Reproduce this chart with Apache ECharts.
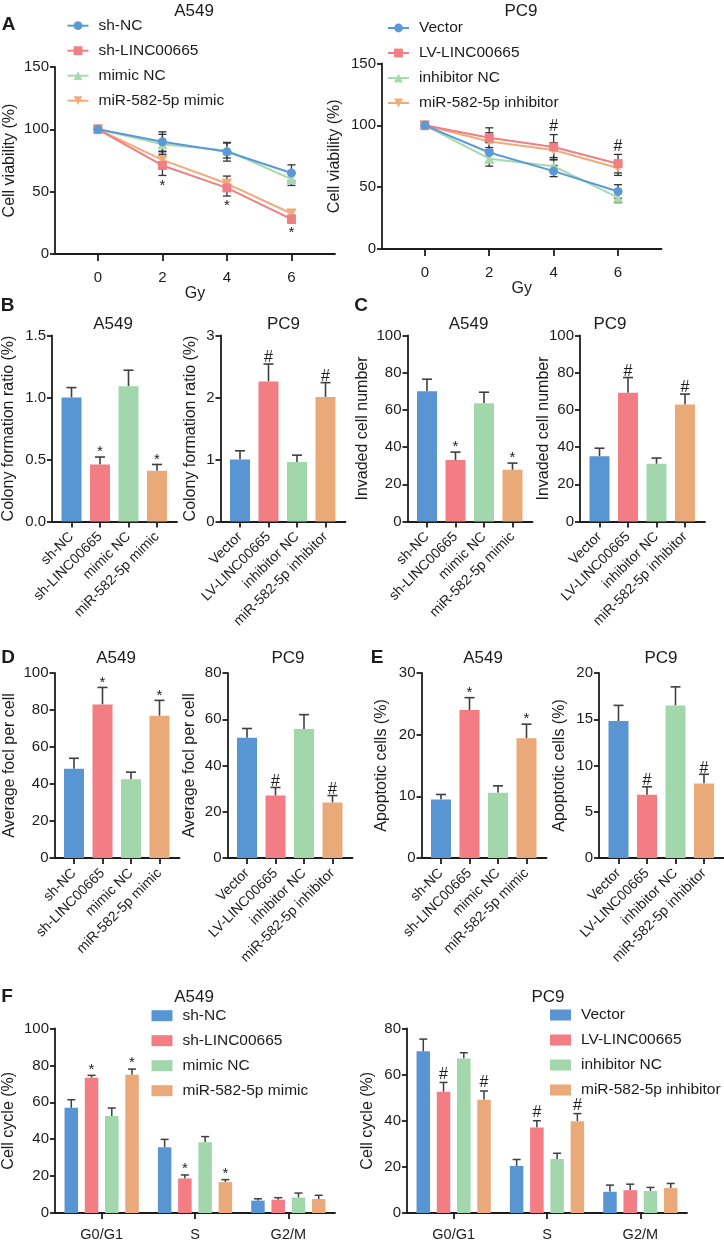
<!DOCTYPE html>
<html><head><meta charset="utf-8">
<script src="https://cdn.jsdelivr.net/npm/echarts@6/dist/echarts.min.js"></script>
<style>html,body{margin:0;padding:0;background:#fff}#c{width:724px;height:1241px}</style>
</head><body><div id="c"></div><script>
// ================= DATA =================
// Panel A: cell viability vs dose
const doses = [0, 2, 4, 6];
const a549Groups = ['sh-NC', 'sh-LINC00665', 'mimic NC', 'miR-582-5p mimic'];
const pc9Groups = ['Vector', 'LV-LINC00665', 'inhibitor NC', 'miR-582-5p inhibitor'];
const viabA549_shNC = [100, 90, 82, 65];
const viabA549_shNC_sd = [0, 8, 7.5, 6.5];
const viabA549_shLINC = [100, 71, 53, 28];
const viabA549_shLINC_sd = [0, 8, 6.5, 3];
const viabA549_mimicNC = [100, 88, 83, 60];
const viabA549_mimicNC_sd = [0, 8, 6, 5];
const viabA549_mimic = [100, 75.5, 56.5, 32.5];
const viabA549_mimic_sd = [0, 7, 6, 3];
const viabA549_sig = ['', '*', '*', '*'];          // under sh-LINC00665
const viabPC9_vector = [100, 78, 63, 46.5];
const viabPC9_vector_sd = [0, 8, 4.5, 5.5];
const viabPC9_LV = [100, 90, 82.5, 69];
const viabPC9_LV_sd = [0, 8, 10, 7.5];
const viabPC9_inhNC = [100, 73, 67, 41.5];
const viabPC9_inhNC_sd = [0, 6, 5, 4];
const viabPC9_inh = [100, 87, 80, 65.5];
const viabPC9_inh_sd = [0, 7, 6, 6];
const viabPC9_sig = ['', '', '#', '#'];            // above LV-LINC00665

// Panel B: colony formation ratio
const colonyA549 = [1.0, 0.46, 1.09, 0.41];
const colonyA549_sd = [0.08, 0.06, 0.13, 0.05];
const colonyA549_sig = ['', '*', '', '*'];
const colonyPC9 = [1.0, 2.26, 0.96, 2.01];
const colonyPC9_sd = [0.14, 0.28, 0.11, 0.23];
const colonyPC9_sig = ['', '#', '', '#'];
// Panel C: invaded cell number
const invadedA549 = [70, 33, 63.6, 27.8];
const invadedA549_sd = [6.5, 4.3, 5.9, 3.6];
const invadedA549_sig = ['', '*', '', '*'];
const invadedPC9 = [35.1, 69.2, 31, 62.9];
const invadedPC9_sd = [4.3, 8.2, 3.1, 5.6];
const invadedPC9_sig = ['', '#', '', '#'];
// Panel D: average foci per cell
const fociA549 = [48.2, 83, 42.6, 76.9];
const fociA549_sd = [5.7, 9.2, 3.8, 8.3];
const fociA549_sig = ['', '*', '', '*'];
const fociPC9 = [52, 27, 55.8, 24];
const fociPC9_sd = [4, 3.5, 6.2, 3];
const fociPC9_sig = ['', '#', '', '#'];
// Panel E: apoptotic cells
const apoA549 = [9.5, 24, 10.6, 19.4];
const apoA549_sd = [0.8, 2, 1.1, 2.3];
const apoA549_sig = ['', '*', '', '*'];
const apoPC9 = [14.8, 6.85, 16.5, 8.05];
const apoPC9_sd = [1.7, 0.85, 2, 1];
const apoPC9_sig = ['', '#', '', '#'];
// Panel F: cell cycle
const phases = ['G0/G1', 'S', 'G2/M'];
const cycA549_shNC = [57, 35.6, 6.7];
const cycA549_shNC_sd = [4.4, 4.3, 1];
const cycA549_shLINC = [73.3, 18.7, 7.2];
const cycA549_shLINC_sd = [1.3, 1.9, 1.1];
const cycA549_mimicNC = [52.6, 38.3, 8.4];
const cycA549_mimicNC_sd = [4.3, 3.1, 2.4];
const cycA549_mimic = [75, 16.7, 7.6];
const cycA549_mimic_sd = [3, 1.4, 2];
const cycA549_sig = ['*', '*', ''];                // sh-LINC00665 & miR-582-5p mimic
const cycPC9_vector = [70.1, 20.4, 9.2];
const cycPC9_vector_sd = [5.3, 2.8, 2.9];
const cycPC9_LV = [52.6, 37.1, 9.9];
const cycPC9_LV_sd = [4, 2.9, 2.6];
const cycPC9_inhNC = [67, 23.4, 9.5];
const cycPC9_inhNC_sd = [2.5, 2.5, 1.6];
const cycPC9_inh = [49.1, 39.8, 10.8];
const cycPC9_inh_sd = [3.8, 3.3, 2];
const cycPC9_sig = ['#', '#', ''];                 // LV-LINC00665 & inhibitor

// ================= STYLE / BUILD =================
const FONT = "'Liberation Sans', Arial, Helvetica, sans-serif";
const INK = '#1c1c1c';
const ERR = '#3f3f3f';
const BAR_COLORS = ['#5995d2', '#f27d82', '#a2d6ab', '#e9a979'];
const LINE_COLORS = ['#5b99d6', '#f07e83', '#a6d9af', '#f0ab7a'];

const option = {
  animation: false, backgroundColor: '#fff',
  textStyle: { fontFamily: FONT },
  grid: [], xAxis: [], yAxis: [], series: [], legend: [], graphic: []
};
const axisLine = { show: true, onZero: false, lineStyle: { color: INK, width: 1.8 } };
function tick(len, extra) { return Object.assign({ show: true, inside: false, length: len, lineStyle: { color: INK, width: 1.8 } }, extra || {}); }
function addGrid(left, top, width, height) {
  option.grid.push({ left, top, width, height, containLabel: false, outerBoundsMode: 'none' });
  return option.grid.length - 1;
}
function yAxisCfg(gi, max, step, name, gap, dec) {
  return {
    type: 'value', gridIndex: gi, min: 0, max, interval: step,
    axisLine, axisTick: tick(5), splitLine: { show: false },
    axisLabel: { color: INK, fontSize: 15, margin: 6, fontFamily: FONT, formatter: v => v.toFixed(dec) },
    name, nameLocation: 'middle', nameGap: gap, nameMoveOverlap: false,
    nameTextStyle: { color: INK, fontSize: 16, fontFamily: FONT }
  };
}
function errSeries(gi, xs, vals, sds, both, cap, offset, color, lw) {
  return {
    type: 'custom', xAxisIndex: gi, yAxisIndex: gi, silent: true, z: 2,
    data: xs.map((x, i) => [x, vals[i], sds[i]]),
    renderItem(params, api) {
      const x = api.value(0), v = api.value(1), e = api.value(2);
      if (!e) return null;
      const hi = api.coord([x, v + e]);
      const lo = api.coord([x, both ? v - e : v]);
      const cx = hi[0] + offset;
      const st = { stroke: color, lineWidth: lw };
      const ch = [
        { type: 'line', shape: { x1: cx, y1: lo[1], x2: cx, y2: hi[1] }, style: st },
        { type: 'line', shape: { x1: cx - cap / 2, y1: hi[1], x2: cx + cap / 2, y2: hi[1] }, style: st }
      ];
      if (both) ch.push({ type: 'line', shape: { x1: cx - cap / 2, y1: lo[1], x2: cx + cap / 2, y2: lo[1] }, style: st });
      return { type: 'group', children: ch };
    }
  };
}
function sigSeries(gi, xs, vals, sds, marks, below, offset, dyStar, dyHash) {
  const data = [];
  marks.forEach((m, i) => { if (m) data.push([xs[i], below ? vals[i] - sds[i] : vals[i] + sds[i], i]); });
  return {
    type: 'custom', xAxisIndex: gi, yAxisIndex: gi, silent: true, z: 6, data,
    renderItem(params, api) {
      const m = marks[api.value(2)];
      const p = api.coord([api.value(0), api.value(1)]);
      return {
        type: 'text', x: p[0] + offset, y: p[1] + (m === '*' ? dyStar : dyHash),
        style: { text: m, fill: INK, font: (m === '*' ? 15 : 16) + 'px ' + FONT, textAlign: 'center', textVerticalAlign: 'middle' }
      };
    }
  };
}
function addText(text, x, y, size, bold) {
  option.graphic.push({ type: 'text', x, y, silent: true,
    style: { text, fill: INK, font: (bold ? 'bold ' : '') + size + 'px ' + FONT, textAlign: 'center', textVerticalAlign: 'middle' } });
}

// ---- Line panels (A) ----
function linePanel(box, groups, means, sds, sig, below, dyStar, dyHash, legendPos, nameGap) {
  const gi = addGrid(box.left, box.top, box.width, box.height);
  option.xAxis.push({
    type: 'value', gridIndex: gi, min: -1.33, max: 7.35, axisLine,
    axisTick: tick(7, { customValues: doses }), splitLine: { show: false },
    axisLabel: { customValues: doses, color: INK, fontSize: 15, margin: 16 },
    name: 'Gy', nameLocation: 'middle', nameGap: 32, nameMoveOverlap: false,
    nameTextStyle: { color: INK, fontSize: 16 }
  });
  option.yAxis.push(yAxisCfg(gi, 150, 50, 'Cell viability (%)', nameGap, 0));
  const symbols = ['circle', 'rect', 'triangle', 'triangle'];
  const rots = [0, 0, 0, 180];
  groups.forEach((g, k) => {
    option.series.push(errSeries(gi, doses, means[k], sds[k], true, 8, 0, '#333', 1.3));
  });
  groups.forEach((g, k) => {
    option.series.push({
      type: 'line', name: g, xAxisIndex: gi, yAxisIndex: gi, z: 10 - k,
      data: doses.map((d, i) => [d, means[k][i]]),
      symbol: symbols[k], symbolRotate: rots[k], symbolSize: k >= 2 ? 10 : 9,
      lineStyle: { color: LINE_COLORS[k], width: 2 }, itemStyle: { color: LINE_COLORS[k] }
    });
  });
  option.series.push(sigSeries(gi, doses, means[1], sds[1], sig, below, 0, dyStar, dyHash));
  option.legend.push({
    orient: 'vertical', left: legendPos[0], top: legendPos[1], padding: 0, itemGap: 0,
    itemWidth: 21, itemHeight: 11, selectedMode: false, data: groups,
    textStyle: { fontSize: 15.5, color: INK, lineHeight: 25, padding: [0, 0, 0, 5] }
  });
}

// ---- Bar panels (B-E) ----
const OFF = 19.5, SP = 28.5, END = 20;
function barPanel(left, top, height, cats, vals, sds, marks, yMax, yStep, dec, yName, nameGap) {
  const width = OFF + 3 * SP + END;
  const gi = addGrid(left, top, width, height);
  const idx = [0, 1, 2, 3];
  option.xAxis.push({
    type: 'value', gridIndex: gi, min: -OFF / SP, max: 3 + END / SP, axisLine,
    axisTick: tick(6, { customValues: idx }), splitLine: { show: false },
    axisLabel: { customValues: idx, formatter: v => cats[Math.round(v)], rotate: 45, color: INK, fontSize: 14, margin: 13 }
  });
  option.yAxis.push(yAxisCfg(gi, yMax, yStep, yName, nameGap, dec));
  option.series.push({
    type: 'bar', xAxisIndex: gi, yAxisIndex: gi, barWidth: 20, silent: true, z: 3,
    data: vals.map((v, i) => ({ value: [i, v], itemStyle: { color: BAR_COLORS[i] } }))
  });
  option.series.push(errSeries(gi, idx, vals, sds, false, 10, 0, ERR, 1.6));
  option.series.push(sigSeries(gi, idx, vals, sds, marks, false, 0, -5, -6));
}

// ---- Cell cycle panels (F) ----
function cyclePanel(left, top, width, height, groups, means, sds, sigIdx, sig, yMax, yStep, nameGap, legendPos) {
  const gi = addGrid(left, top, width, height);
  option.xAxis.push({
    type: 'category', gridIndex: gi, data: phases, axisLine,
    axisTick: tick(6, { alignWithLabel: true }),
    axisLabel: { color: INK, fontSize: 14.5, margin: 14 }
  });
  option.yAxis.push(yAxisCfg(gi, yMax, yStep, 'Cell cycle (%)', nameGap, 0));
  const W = 13.5, step = W * 1.5;
  groups.forEach((g, k) => {
    option.series.push({
      type: 'bar', name: g, xAxisIndex: gi, yAxisIndex: gi, barWidth: W, barGap: '50%', silent: true, z: 3,
      data: means[k], itemStyle: { color: BAR_COLORS[k] }
    });
  });
  groups.forEach((g, k) => {
    const off = (k - 1.5) * step;
    option.series.push(errSeries(gi, [0, 1, 2], means[k], sds[k], false, 8, off, ERR, 1.5));
    if (sigIdx.indexOf(k) >= 0) option.series.push(sigSeries(gi, [0, 1, 2], means[k], sds[k], sig, false, off, -6, -8));
  });
  option.legend.push({
    orient: 'vertical', left: legendPos[0], top: legendPos[1], padding: 0, itemGap: 0,
    itemWidth: 21, itemHeight: 11, selectedMode: false,
    data: groups.map((g, k) => ({ name: g, icon: 'rect', itemStyle: { color: BAR_COLORS[k], borderWidth: 0 } })),
    textStyle: { fontSize: 15.5, color: INK, lineHeight: 25, padding: [0, 0, 0, 5] }
  });
}

// ---- assemble ----
linePanel({ left: 55, top: 67, width: 280, height: 187 }, a549Groups,
  [viabA549_shNC, viabA549_shLINC, viabA549_mimicNC, viabA549_mimic],
  [viabA549_shNC_sd, viabA549_shLINC_sd, viabA549_mimicNC_sd, viabA549_mimic_sd],
  viabA549_sig, true, 10, 10, [66.5, 13.2], 37);
linePanel({ left: 382, top: 63.5, width: 279.5, height: 185.5 }, pc9Groups,
  [viabPC9_vector, viabPC9_LV, viabPC9_inhNC, viabPC9_inh],
  [viabPC9_vector_sd, viabPC9_LV_sd, viabPC9_inhNC_sd, viabPC9_inh_sd],
  viabPC9_sig, false, -8, -8, [387, 15.5], 39);

barPanel(52, 335.5, 186, a549Groups, colonyA549, colonyA549_sd, colonyA549_sig, 1.5, 0.5, 1, 'Colony formation ratio (%)', 35);
barPanel(220.5, 335.5, 186, pc9Groups, colonyPC9, colonyPC9_sd, colonyPC9_sig, 3, 1, 0, 'Colony formation ratio (%)', 22);
barPanel(407.5, 335.5, 186, a549Groups, invadedA549, invadedA549_sd, invadedA549_sig, 100, 20, 0, 'Invaded cell number', 37);
barPanel(580, 335.5, 186, pc9Groups, invadedPC9, invadedPC9_sd, invadedPC9_sig, 100, 20, 0, 'Invaded cell number', 28);
barPanel(54.5, 673, 185, a549Groups, fociA549, fociA549_sd, fociA549_sig, 100, 20, 0, 'Average focl per cell', 37);
barPanel(227.5, 673, 185, pc9Groups, fociPC9, fociPC9_sd, fociPC9_sig, 80, 20, 0, 'Average focl per cell', 30);
barPanel(421.5, 673, 185, a549Groups, apoA549, apoA549_sd, apoA549_sig, 30, 10, 0, 'Apoptotic cells (%)', 32);
barPanel(599, 673, 185, pc9Groups, apoPC9, apoPC9_sd, apoPC9_sig, 20, 5, 0, 'Apoptotic cells (%)', 31);

cyclePanel(55, 1028.5, 280, 184.5, a549Groups,
  [cycA549_shNC, cycA549_shLINC, cycA549_mimicNC, cycA549_mimic],
  [cycA549_shNC_sd, cycA549_shLINC_sd, cycA549_mimicNC_sd, cycA549_mimic_sd],
  [1, 3], cycA549_sig, 100, 20, 38, [151.5, 1003.2]);
cyclePanel(407, 1028.5, 280, 184.5, pc9Groups,
  [cycPC9_vector, cycPC9_LV, cycPC9_inhNC, cycPC9_inh],
  [cycPC9_vector_sd, cycPC9_LV_sd, cycPC9_inhNC_sd, cycPC9_inh_sd],
  [1, 3], cycPC9_sig, 80, 20, 31, [550, 1002.5]);

// titles & panel letters
addText('A549', 194, 11, 17); addText('PC9', 521, 11, 17);
addText('A549', 113, 324.5, 17); addText('PC9', 283.5, 324.5, 17);
addText('A549', 468.5, 324.5, 17); addText('PC9', 610, 324.5, 17);
addText('A549', 116, 658, 17); addText('PC9', 288, 658, 17);
addText('A549', 483, 658, 17); addText('PC9', 661, 658, 17);
addText('A549', 194, 997.5, 17); addText('PC9', 548, 997, 17);
addText('A', 8.5, 25, 19, true); addText('B', 7.5, 306, 19, true); addText('C', 361, 306, 19, true);
addText('D', 8, 657.5, 19, true); addText('E', 377, 657.5, 19, true); addText('F', 7, 996.5, 19, true);

const chart = echarts.init(document.getElementById('c'), null, { renderer: 'canvas', width: 724, height: 1241 });
chart.setOption(option);
</script></body></html>
